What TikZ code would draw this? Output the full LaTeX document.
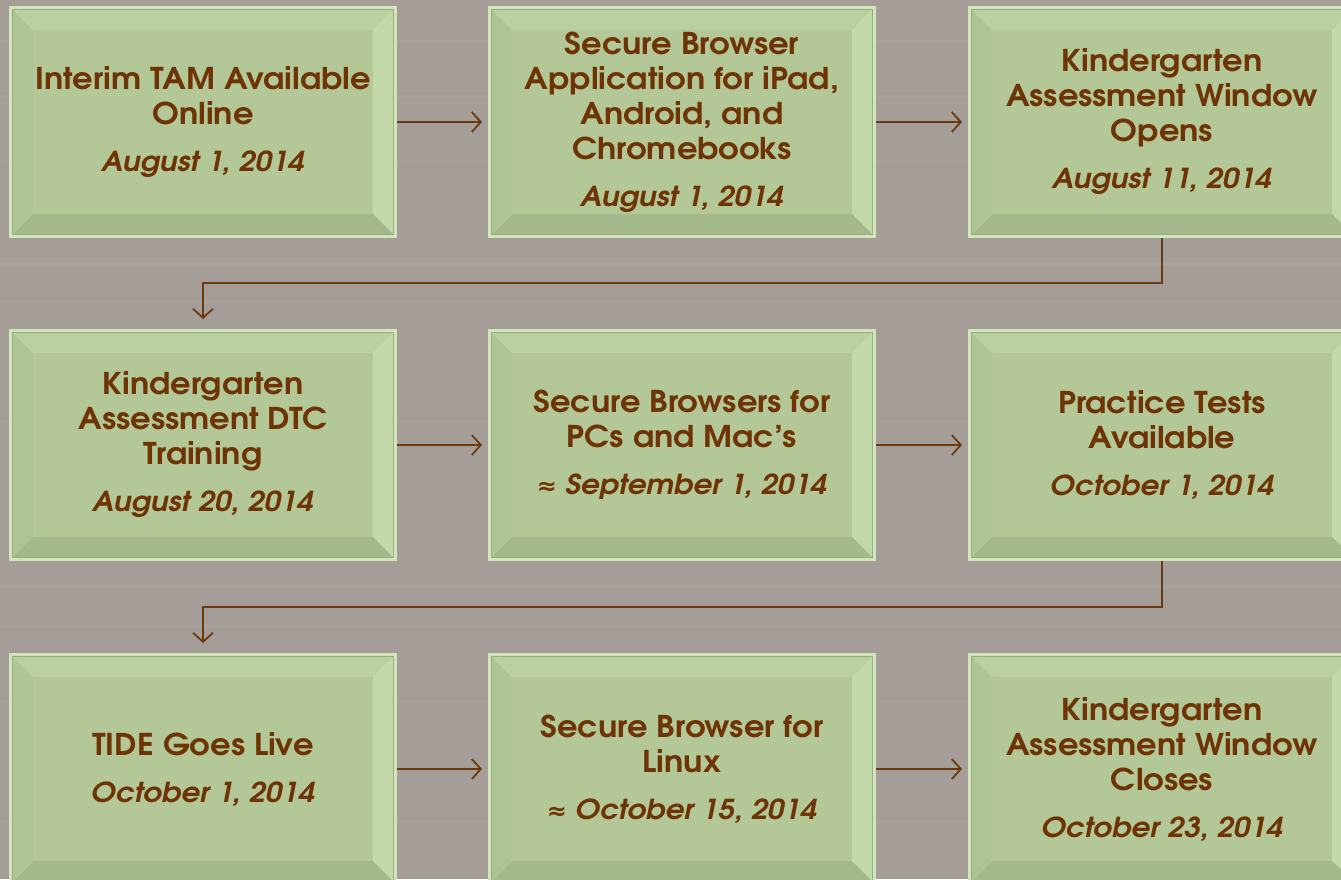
\documentclass[tikz,border=0pt]{standalone}
\usepackage{fontspec}
\setmainfont{texgyreadventor}[Extension=.otf, UprightFont=*-regular, BoldFont=*-bold, ItalicFont=*-italic, BoldItalicFont=*-bolditalic, FakeStretch=1.07]
\newfontfamily\symfont{DejaVu Sans}
\usetikzlibrary{arrows.meta,calc,backgrounds}
\definecolor{bgcol}{HTML}{A59E98}
\definecolor{bgstreak}{HTML}{B5AFA9}
\definecolor{edgecol}{HTML}{D2E4BA}
\definecolor{outlinecol}{HTML}{98AD84}
\definecolor{topbev}{HTML}{BBD0A0}
\definecolor{leftbev}{HTML}{AFC494}
\definecolor{rightbev}{HTML}{C4D9A9}
\definecolor{botbev}{HTML}{A4B98B}
\definecolor{facecol}{HTML}{B3C797}
\definecolor{txtcol}{HTML}{6E3405}
\definecolor{arrcol}{HTML}{6B3A10}
\tikzset{
  bevelbox/.style={rectangle, minimum width=388pt, minimum height=232pt, inner sep=0pt, outer sep=0pt,
    align=center, text=txtcol, font=\bfseries\fontsize{30}{35}\selectfont},
  arr/.style={draw=arrcol, line width=1.8pt, -{Straight Barb[length=9pt,width=20pt,line width=1.8pt]}}
}
\newcommand{\dt}[1]{{\itshape\fontsize{27.5}{35}\selectfont #1}}
\newcommand{\apx}{{\symfont\bfseries\fontsize{24}{35}\selectfont ≈}}
\newcommand{\bevel}[1]{%
  \fill[edgecol] (#1.north west) rectangle (#1.south east);
  \fill[topbev] ($(#1.north west)+(4,4)$) -- ($(#1.north east)+(-4,4)$) -- ($(#1.north east)+(-24,24)$) -- ($(#1.north west)+(24,24)$) -- cycle;
  \fill[leftbev] ($(#1.north west)+(4,4)$) -- ($(#1.south west)+(4,-4)$) -- ($(#1.south west)+(24,-24)$) -- ($(#1.north west)+(24,24)$) -- cycle;
  \fill[rightbev] ($(#1.north east)+(-4,4)$) -- ($(#1.south east)+(-4,-4)$) -- ($(#1.south east)+(-24,-24)$) -- ($(#1.north east)+(-24,24)$) -- cycle;
  \fill[botbev] ($(#1.south west)+(4,-4)$) -- ($(#1.south east)+(-4,-4)$) -- ($(#1.south east)+(-24,-24)$) -- ($(#1.south west)+(24,-24)$) -- cycle;
  \fill[facecol] ($(#1.north west)+(24,24)$) rectangle ($(#1.south east)+(-24,-24)$);
  \draw[outlinecol, line width=0.9pt] ($(#1.north west)+(3.5,3.5)$) rectangle ($(#1.south east)+(-3.5,-3.5)$);
}
\begin{document}
\begin{tikzpicture}[x=1pt, y=-1pt]
\useasboundingbox (0,0) rectangle (1341,879);
\clip (0,0) rectangle (1341,879);
\node[bevelbox] (b1) at (203,122) {Interim TAM Available\\Online\\[12pt]\dt{August 1, 2014}};
\node[bevelbox] (b2) at (682,122) {Secure Browser\\Application for iPad,\\Android, and\\Chromebooks\\[12pt]\dt{August 1, 2014}};
\node[bevelbox] (b3) at (1162,122) {Kindergarten\\Assessment Window\\Opens\\[12pt]\dt{August 11, 2014}};
\node[bevelbox] (b4) at (203,445) {Kindergarten\\Assessment DTC\\Training\\[12pt]\dt{August 20, 2014}};
\node[bevelbox] (b5) at (682,445) {Secure Browsers for\\PCs and Mac’s\\[12pt]\dt{\apx\ September 1, 2014}};
\node[bevelbox] (b6) at (1162,445) {Practice Tests\\Available\\[12pt]\dt{October 1, 2014}};
\node[bevelbox] (b7) at (203,769) {TIDE Goes Live\\[12pt]\dt{October 1, 2014}};
\node[bevelbox] (b8) at (682,769) {Secure Browser for\\Linux\\[12pt]\dt{\apx\ October 15, 2014}};
\node[bevelbox] (b9) at (1162,769) {Kindergarten\\Assessment Window\\Closes\\[12pt]\dt{October 23, 2014}};
\begin{pgfonlayer}{background}
\fill[bgcol] (0,0) rectangle (1341,879);
\foreach \yy/\op in {40/0.25,95/0.18,160/0.22,262/0.3,300/0.2,420/0.15,585/0.25,625/0.2,700/0.15,820/0.22}{
  \fill[bgstreak, opacity=\op] (0,\yy) rectangle (1341,\yy+3);
}
\foreach \b in {b1,b2,b3,b4,b5,b6,b7,b8,b9}{\bevel{\b}}
\end{pgfonlayer}
\draw[arr, shorten >=6pt] (b1.east) -- (b2.west);
\draw[arr, shorten >=6pt] (b2.east) -- (b3.west);
\draw[arr, shorten >=6pt] (b4.east) -- (b5.west);
\draw[arr, shorten >=6pt] (b5.east) -- (b6.west);
\draw[arr, shorten >=6pt] (b7.east) -- (b8.west);
\draw[arr, shorten >=6pt] (b8.east) -- (b9.west);
\draw[arr] (b3.south) -- ++(0,45) -| ([yshift=10pt]b4.north);
\draw[arr] (b6.south) -- ++(0,46) -| ([yshift=10pt]b7.north);
\end{tikzpicture}
\end{document}
